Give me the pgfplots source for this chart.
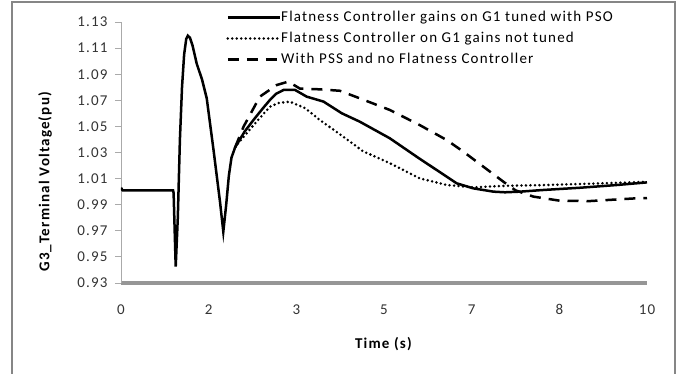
\documentclass[border=0pt]{standalone}
\usepackage{pgfplots}
\pgfplotsset{compat=1.18}
\usepackage{fontspec}
\setmainfont{Carlito}[LetterSpace=8]
\definecolor{framegray}{RGB}{134,134,134}
\definecolor{axgray}{RGB}{150,150,150}
\definecolor{ygray}{RGB}{170,170,170}

\pgfplotstableread{
t v
0 1.003
0.03 1.001
0.99 1.001
1.0 0.999
1.04 0.9425
1.08 0.98
1.12 1.04
1.16 1.08
1.2 1.105
1.24 1.117
1.27 1.1195
1.31 1.118
1.36 1.112
1.44 1.098
1.54 1.086
1.63 1.0715
1.755 1.0332
1.88 0.993
1.945 0.9693
2.0 0.990
2.05 1.012
2.1 1.026
2.17 1.034
}\early

\pgfplotstableread{
t v
2.17 1.034
2.35 1.046
2.52 1.055
2.7 1.064
2.83 1.0702
2.95 1.075
3.09 1.0779
3.31 1.0779
3.53 1.0728
3.85 1.069
4.2 1.060
4.54 1.0536
5.11 1.0409
5.62 1.0268
6.0 1.0166
6.38 1.0064
6.7 1.0025
7.08 1.0000
7.3 0.9995
7.59 1.0000
8.0 1.0012
8.73 1.0030
9.4 1.0050
10 1.0071
}\pso

\pgfplotstableread{
t v
2.17 1.034
2.23 1.0372
2.52 1.051
2.83 1.065
3.0 1.0680
3.21 1.0689
3.5 1.0640
3.78 1.0549
4.23 1.0420
4.6 1.0310
5.11 1.0218
5.68 1.0102
6.19 1.0051
6.7 1.0033
7.33 1.0045
8.0 1.0050
9.0 1.0062
10 1.0075
}\nottuned

\pgfplotstableread{
t v
2.17 1.034
2.33 1.0498
2.64 1.0728
2.96 1.0817
3.18 1.0843
3.4 1.0790
3.78 1.0784
4.16 1.0773
4.54 1.0715
5.11 1.0626
5.68 1.0510
6.19 1.0396
6.51 1.0306
6.89 1.0191
7.27 1.0076
7.5 1.0010
7.84 0.9962
8.35 0.9930
8.92 0.9928
9.8 0.9949
10 0.9950
}\pss

\begin{document}
\begin{tikzpicture}[x=1pt,y=1pt]
\path[use as bounding box] (0,0) rectangle (683,374);
\draw[framegray, line width=2pt] (12,0) -- (12,371.5) -- (675,371.5) -- (675,0);
\begin{axis}[
  at={(121pt,91pt)}, anchor=south west,
  scale only axis, width=526pt, height=261pt,
  xmin=0, xmax=10, ymin=0.93, ymax=1.13,
  axis x line*=bottom, axis y line*=left,
  x axis line style={axgray, line width=4.5pt},
  y axis line style={ygray, line width=0.8pt},
  xtick={0,1.6667,3.3333,5,6.6667,8.3333,10},
  xticklabels={0,2,3,5,7,8,10},
  ytick={0.93,0.95,...,1.14},
  yticklabel style={/pgf/number format/fixed, /pgf/number format/fixed zerofill, /pgf/number format/precision=2},
  /pgf/number format/assume math mode=true,
  xtick style={draw=none},
  ytick style={ygray, line width=0.8pt},
  tick align=outside, major tick length=6pt,
  tick label style={font=\fontsize{15}{17}\selectfont, text=black!80},
  xticklabel style={yshift=-12pt},
  yticklabel style={xshift=-4pt},
  xlabel={\textbf{Time (s)}},
  ylabel={\textbf{G3\_Terminal Voltage(pu)}},
  label style={font=\fontsize{15}{17}\selectfont},
  xlabel style={at={(axis description cs:0.5,0)}, anchor=center, yshift=-61pt},
  ylabel style={at={(axis description cs:-0.1445,0.39)}, anchor=center},
  legend style={at={(axis description cs:0.2,1.045)}, anchor=north west,
    draw=none, fill=none, font=\fontsize{15}{17}\selectfont,
    row sep=7pt, inner sep=0pt,
    nodes={inner sep=0pt, text height=11pt, text depth=3pt}},
  legend cell align=left,
  legend image code/.code={\draw[#1] (0pt,0pt) -- (52pt,0pt);},
]
\addplot[black, line width=2.5pt, forget plot] table[x=t,y=v] {\early};
\addplot[black, line width=2.5pt] table[x=t,y=v] {\pso};
\addlegendentry{Flatness Controller gains on G1 tuned with PSO}
\addplot[black, line width=2.8pt, line cap=round, dash pattern=on 0pt off 4.5pt] table[x=t,y=v] {\nottuned};
\addlegendentry{Flatness Controller on G1 gains not tuned}
\addplot[black, line width=2.5pt, dash pattern=on 11pt off 8pt] table[x=t,y=v] {\pss};
\addlegendentry{With PSS and no Flatness Controller}
\end{axis}
\end{tikzpicture}
\end{document}
